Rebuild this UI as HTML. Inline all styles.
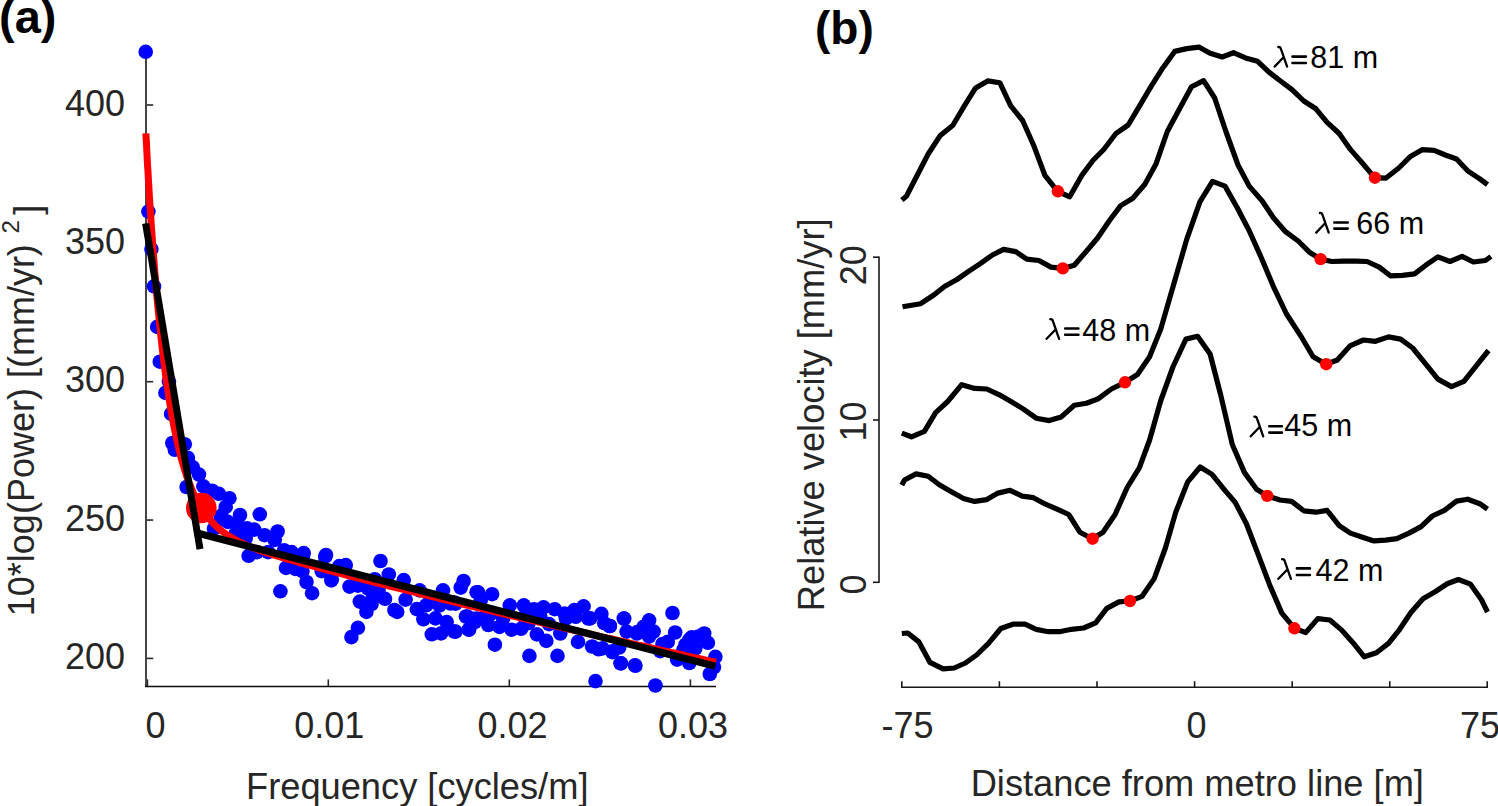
<!DOCTYPE html><html><head><meta charset="utf-8"><style>html,body{margin:0;padding:0;background:#fff;}svg{display:block;}</style></head><body>
<svg width="1498" height="806" viewBox="0 0 1498 806">
<rect width="1498" height="806" fill="#fff"/>
<g stroke="#262626" stroke-width="1.6" fill="none">
<line x1="146.2" y1="105.0" x2="153.2" y2="105.0"/>
<line x1="146.2" y1="243.35" x2="153.2" y2="243.35"/>
<line x1="146.2" y1="381.7" x2="153.2" y2="381.7"/>
<line x1="146.2" y1="520.05" x2="153.2" y2="520.05"/>
<line x1="146.2" y1="658.4" x2="153.2" y2="658.4"/>
<line x1="147.4" y1="686.0" x2="147.4" y2="679.4"/>
<line x1="328.3" y1="686.0" x2="328.3" y2="679.4"/>
<line x1="509.3" y1="686.0" x2="509.3" y2="679.4"/>
<line x1="690.4" y1="686.0" x2="690.4" y2="679.4"/>
</g>
<line x1="146" y1="49.7" x2="146" y2="686.7" stroke="#444" stroke-width="2"/>
<line x1="145" y1="686.4" x2="716.0" y2="686.4" stroke="#0a0a0a" stroke-width="1.5"/>
<g fill="#0000ff">
<circle cx="145.7" cy="51.8" r="7.3"/>
<circle cx="148.4" cy="211.6" r="7.3"/>
<circle cx="151.4" cy="249.1" r="7.3"/>
<circle cx="154.0" cy="286.4" r="7.3"/>
<circle cx="157.2" cy="326.9" r="7.3"/>
<circle cx="159.8" cy="361.7" r="7.3"/>
<circle cx="168.9" cy="381.6" r="7.3"/>
<circle cx="165.4" cy="392.9" r="7.3"/>
<circle cx="171.1" cy="413.8" r="7.3"/>
<circle cx="172.3" cy="443.0" r="7.3"/>
<circle cx="174.8" cy="449.8" r="7.3"/>
<circle cx="184.8" cy="444.2" r="7.3"/>
<circle cx="187.9" cy="457.9" r="7.3"/>
<circle cx="192.8" cy="467.2" r="7.3"/>
<circle cx="199.0" cy="474.6" r="7.3"/>
<circle cx="186.6" cy="487.0" r="7.3"/>
<circle cx="203.4" cy="486.4" r="7.3"/>
<circle cx="212.1" cy="490.7" r="7.3"/>
<circle cx="218.9" cy="493.8" r="7.3"/>
<circle cx="229.4" cy="498.2" r="7.3"/>
<circle cx="225.7" cy="506.9" r="7.3"/>
<circle cx="221.4" cy="515.6" r="7.3"/>
<circle cx="240.0" cy="515.0" r="7.3"/>
<circle cx="259.8" cy="514.3" r="7.3"/>
<circle cx="220.6" cy="519.3" r="7.3"/>
<circle cx="237.4" cy="524.0" r="7.3"/>
<circle cx="214.0" cy="528.7" r="7.3"/>
<circle cx="254.2" cy="529.6" r="7.3"/>
<circle cx="264.5" cy="535.2" r="7.3"/>
<circle cx="277.6" cy="531.5" r="7.3"/>
<circle cx="274.8" cy="539.9" r="7.3"/>
<circle cx="245.8" cy="538.0" r="7.3"/>
<circle cx="248.6" cy="555.8" r="7.3"/>
<circle cx="257.0" cy="552.1" r="7.3"/>
<circle cx="268.2" cy="552.1" r="7.3"/>
<circle cx="284.1" cy="550.2" r="7.3"/>
<circle cx="291.6" cy="552.1" r="7.3"/>
<circle cx="302.8" cy="556.7" r="7.3"/>
<circle cx="325.2" cy="556.7" r="7.3"/>
<circle cx="286.0" cy="567.9" r="7.3"/>
<circle cx="295.3" cy="568.9" r="7.3"/>
<circle cx="300.9" cy="568.9" r="7.3"/>
<circle cx="321.5" cy="567.0" r="7.3"/>
<circle cx="345.8" cy="565.1" r="7.3"/>
<circle cx="339.3" cy="566.1" r="7.3"/>
<circle cx="380.5" cy="561.0" r="7.3"/>
<circle cx="306.5" cy="582.0" r="7.3"/>
<circle cx="312.1" cy="593.2" r="7.3"/>
<circle cx="280.4" cy="591.3" r="7.3"/>
<circle cx="331.8" cy="579.2" r="7.3"/>
<circle cx="349.5" cy="586.6" r="7.3"/>
<circle cx="357.9" cy="585.7" r="7.3"/>
<circle cx="374.8" cy="579.2" r="7.3"/>
<circle cx="388.8" cy="574.5" r="7.3"/>
<circle cx="403.7" cy="580.1" r="7.3"/>
<circle cx="359.8" cy="601.6" r="7.3"/>
<circle cx="372.0" cy="599.7" r="7.3"/>
<circle cx="366.4" cy="611.9" r="7.3"/>
<circle cx="385.0" cy="598.8" r="7.3"/>
<circle cx="394.4" cy="610.0" r="7.3"/>
<circle cx="397.2" cy="611.9" r="7.3"/>
<circle cx="405.6" cy="599.7" r="7.3"/>
<circle cx="419.6" cy="590.4" r="7.3"/>
<circle cx="416.8" cy="609.1" r="7.3"/>
<circle cx="426.2" cy="605.3" r="7.3"/>
<circle cx="423.4" cy="619.3" r="7.3"/>
<circle cx="435.5" cy="618.4" r="7.3"/>
<circle cx="431.8" cy="634.3" r="7.3"/>
<circle cx="441.1" cy="633.4" r="7.3"/>
<circle cx="446.7" cy="622.1" r="7.3"/>
<circle cx="443.0" cy="590.4" r="7.3"/>
<circle cx="460.7" cy="587.6" r="7.3"/>
<circle cx="463.6" cy="581.0" r="7.3"/>
<circle cx="454.2" cy="631.5" r="7.3"/>
<circle cx="467.3" cy="616.5" r="7.3"/>
<circle cx="469.2" cy="629.6" r="7.3"/>
<circle cx="476.6" cy="592.2" r="7.3"/>
<circle cx="474.8" cy="622.1" r="7.3"/>
<circle cx="357.9" cy="627.8" r="7.3"/>
<circle cx="351.4" cy="637.1" r="7.3"/>
<circle cx="450.5" cy="603.5" r="7.3"/>
<circle cx="375.7" cy="592.2" r="7.3"/>
<circle cx="303.7" cy="553.1" r="7.3"/>
<circle cx="326.0" cy="555.0" r="7.3"/>
<circle cx="302.5" cy="571.1" r="7.3"/>
<circle cx="321.7" cy="571.1" r="7.3"/>
<circle cx="331.3" cy="580.4" r="7.3"/>
<circle cx="478.0" cy="592.3" r="7.3"/>
<circle cx="492.1" cy="594.2" r="7.3"/>
<circle cx="480.8" cy="599.8" r="7.3"/>
<circle cx="455.6" cy="603.6" r="7.3"/>
<circle cx="465.9" cy="616.6" r="7.3"/>
<circle cx="476.2" cy="618.5" r="7.3"/>
<circle cx="455.6" cy="631.6" r="7.3"/>
<circle cx="468.7" cy="629.7" r="7.3"/>
<circle cx="488.3" cy="625.0" r="7.3"/>
<circle cx="499.5" cy="626.9" r="7.3"/>
<circle cx="511.7" cy="629.7" r="7.3"/>
<circle cx="521.0" cy="628.8" r="7.3"/>
<circle cx="528.5" cy="623.2" r="7.3"/>
<circle cx="509.8" cy="605.4" r="7.3"/>
<circle cx="523.8" cy="605.4" r="7.3"/>
<circle cx="534.1" cy="609.2" r="7.3"/>
<circle cx="543.5" cy="607.3" r="7.3"/>
<circle cx="554.7" cy="609.2" r="7.3"/>
<circle cx="549.1" cy="624.1" r="7.3"/>
<circle cx="536.9" cy="634.4" r="7.3"/>
<circle cx="546.3" cy="640.9" r="7.3"/>
<circle cx="494.9" cy="644.7" r="7.3"/>
<circle cx="529.4" cy="655.9" r="7.3"/>
<circle cx="557.5" cy="655.9" r="7.3"/>
<circle cx="560.3" cy="633.5" r="7.3"/>
<circle cx="565.9" cy="618.5" r="7.3"/>
<circle cx="574.3" cy="610.1" r="7.3"/>
<circle cx="583.6" cy="606.4" r="7.3"/>
<circle cx="588.3" cy="618.5" r="7.3"/>
<circle cx="578.0" cy="641.9" r="7.3"/>
<circle cx="592.1" cy="646.5" r="7.3"/>
<circle cx="598.6" cy="649.3" r="7.3"/>
<circle cx="601.4" cy="613.8" r="7.3"/>
<circle cx="604.2" cy="623.2" r="7.3"/>
<circle cx="609.8" cy="626.0" r="7.3"/>
<circle cx="612.6" cy="651.2" r="7.3"/>
<circle cx="619.2" cy="647.5" r="7.3"/>
<circle cx="623.8" cy="618.5" r="7.3"/>
<circle cx="626.6" cy="631.6" r="7.3"/>
<circle cx="636.9" cy="633.5" r="7.3"/>
<circle cx="649.1" cy="620.4" r="7.3"/>
<circle cx="643.5" cy="626.9" r="7.3"/>
<circle cx="653.7" cy="631.6" r="7.3"/>
<circle cx="621.0" cy="663.4" r="7.3"/>
<circle cx="635.0" cy="665.2" r="7.3"/>
<circle cx="595.5" cy="681.1" r="7.3"/>
<circle cx="655.4" cy="685.5" r="7.3"/>
<circle cx="672.5" cy="613.0" r="7.3"/>
<circle cx="675.2" cy="632.5" r="7.3"/>
<circle cx="667.8" cy="641.9" r="7.3"/>
<circle cx="660.3" cy="651.2" r="7.3"/>
<circle cx="677.1" cy="659.6" r="7.3"/>
<circle cx="689.3" cy="663.0" r="7.3"/>
<circle cx="693.0" cy="638.1" r="7.3"/>
<circle cx="704.2" cy="633.5" r="7.3"/>
<circle cx="707.9" cy="642.8" r="7.3"/>
<circle cx="685.5" cy="644.7" r="7.3"/>
<circle cx="715.4" cy="656.8" r="7.3"/>
<circle cx="714.0" cy="667.1" r="7.3"/>
<circle cx="709.8" cy="674.0" r="7.3"/>
<circle cx="602.5" cy="648.4" r="7.3"/>
<circle cx="612.4" cy="652.1" r="7.3"/>
<circle cx="620.5" cy="663.3" r="7.3"/>
<circle cx="635.4" cy="665.8" r="7.3"/>
<circle cx="652.1" cy="631.6" r="7.3"/>
<circle cx="691.8" cy="637.2" r="7.3"/>
<circle cx="609.9" cy="626.0" r="7.3"/>
<circle cx="624.2" cy="618.6" r="7.3"/>
<circle cx="227.7" cy="521.9" r="7.3"/>
<circle cx="247.1" cy="528.4" r="7.3"/>
<circle cx="439.4" cy="605.5" r="7.3"/>
<circle cx="428.9" cy="602.6" r="7.3"/>
<circle cx="490.0" cy="614.5" r="7.3"/>
<circle cx="454.3" cy="602.6" r="7.3"/>
<circle cx="484.0" cy="617.5" r="7.3"/>
<circle cx="689.4" cy="639.6" r="7.3"/>
<circle cx="698.3" cy="636.6" r="7.3"/>
<circle cx="695.3" cy="648.5" r="7.3"/>
<circle cx="683.4" cy="650.0" r="7.3"/>
<circle cx="637.2" cy="632.1" r="7.3"/>
<circle cx="649.1" cy="636.6" r="7.3"/>
<circle cx="662.5" cy="644.0" r="7.3"/>
<circle cx="564.5" cy="613.5" r="7.3"/>
<circle cx="540.3" cy="616.8" r="7.3"/>
<circle cx="590.3" cy="618.4" r="7.3"/>
<circle cx="524.2" cy="616.8" r="7.3"/>
<circle cx="575.8" cy="616.8" r="7.3"/>
<circle cx="503.2" cy="618.4" r="7.3"/>
<circle cx="235.8" cy="533.2" r="7.3"/>
<circle cx="368.0" cy="588.5" r="7.3"/>
<circle cx="378.5" cy="590.3" r="7.3"/>
<circle cx="371.5" cy="604.2" r="7.3"/>
</g>
<circle cx="201.3" cy="508.0" r="15.3" fill="#ff0000"/>
<polyline points="145.9,133.3 146.0,135.5 146.1,137.7 146.2,139.8 146.4,141.9 146.5,144.0 146.6,146.1 146.7,148.2 146.8,150.3 146.9,152.3 147.0,154.3 147.1,156.4 147.2,158.4 147.3,160.3 147.4,162.3 147.5,164.3 147.6,166.2 147.7,168.1 147.9,170.0 148.0,171.9 148.1,173.8 148.2,175.7 148.3,177.5 148.4,179.4 148.5,181.2 149.0,189.1 149.4,196.8 149.9,204.2 150.4,211.5 150.9,218.6 151.3,225.5 151.8,232.2 152.3,238.8 152.7,245.2 153.2,251.5 153.7,257.6 154.1,263.6 154.6,269.4 155.1,275.2 155.6,280.8 156.0,286.2 156.5,291.6 157.0,296.8 157.4,301.9 157.9,306.9 158.4,311.8 158.9,316.6 159.3,321.3 159.8,325.9 160.3,330.4 160.7,334.8 161.2,339.1 161.7,343.3 162.1,347.4 162.6,351.4 163.1,355.4 163.6,359.3 164.0,363.0 164.5,366.7 165.0,370.4 165.4,373.9 165.9,377.4 166.4,380.8 166.9,384.1 167.3,387.3 167.8,390.5 168.3,393.6 168.7,396.7 169.2,399.7 169.7,402.6 170.1,405.5 170.6,408.3 171.1,411.0 171.6,413.7 172.0,416.3 172.5,418.9 173.0,421.4 173.4,423.9 173.9,426.3 174.4,428.7 174.9,431.0 175.3,433.3 175.8,435.5 176.3,437.7 176.7,439.8 177.2,441.9 177.7,444.0 178.1,446.0 178.6,447.9 179.1,449.9 179.6,451.8 180.0,453.6 180.5,455.4 181.0,457.2 181.4,458.9 181.9,460.6 182.4,462.3 182.9,463.9 183.3,465.5 183.8,467.1 184.3,468.6 184.7,470.1 185.2,471.6 185.7,473.0 186.1,474.5 186.6,475.9 187.1,477.2 187.6,478.5 188.0,479.9 188.5,481.1 189.0,482.4 189.4,483.6 189.9,484.8 190.4,486.0 190.9,487.2 191.3,488.3 191.8,489.4 192.3,490.5 192.7,491.6 193.2,492.7 193.7,493.7 194.1,494.7 194.6,495.7 195.1,496.7 195.6,497.6 196.0,498.6 196.5,499.5 197.0,500.4 197.4,501.3 197.9,502.1 198.4,503.0 198.9,503.8 199.3,504.7 199.8,505.5 200.3,506.3 200.7,507.0 201.2,507.8 201.7,508.6 202.1,509.3 202.6,510.0 203.1,510.7 203.6,511.4 204.0,512.1 204.5,512.8 208.8,518.4 213.1,523.2 217.4,527.4 221.7,531.0 226.0,534.1 230.3,536.9 234.6,539.4 238.9,541.7 243.2,543.7 247.5,545.6 251.8,547.4 256.1,549.0 260.4,550.6 264.7,552.1 269.0,553.5 273.3,554.9 277.6,556.2 281.9,557.5 286.2,558.8 290.5,560.0 294.8,561.2 299.1,562.5 303.4,563.6 307.7,564.8 312.0,566.0 316.3,567.1 320.6,568.3 324.9,569.4 329.2,570.6 333.4,571.7 337.7,572.8 342.0,573.9 346.3,575.1 350.6,576.2 354.9,577.3 359.2,578.4 363.5,579.5 367.8,580.6 372.1,581.7 376.4,582.8 380.7,583.8 385.0,584.9 389.3,586.0 393.6,587.1 397.9,588.2 402.2,589.2 406.5,590.3 410.8,591.4 415.1,592.4 419.4,593.5 423.7,594.6 428.0,595.6 432.3,596.7 436.6,597.7 440.9,598.8 445.2,599.8 449.5,600.9 453.8,601.9 458.1,603.0 462.4,604.0 466.7,605.1 471.0,606.1 475.3,607.1 479.6,608.2 483.9,609.2 488.2,610.2 492.5,611.2 496.8,612.3 501.1,613.3 505.4,614.3 509.7,615.3 514.0,616.3 518.3,617.4 522.6,618.4 526.9,619.4 531.2,620.4 535.5,621.4 539.8,622.4 544.1,623.4 548.4,624.4 552.7,625.4 557.0,626.4 561.3,627.4 565.6,628.4 569.9,629.4 574.2,630.4 578.5,631.4 582.8,632.4 587.1,633.3 591.3,634.3 595.6,635.3 599.9,636.3 604.2,637.3 608.5,638.3 612.8,639.2 617.1,640.2 621.4,641.2 625.7,642.2 630.0,643.1 634.3,644.1 638.6,645.1 642.9,646.0 647.2,647.0 651.5,648.0 655.8,648.9 660.1,649.9 664.4,650.9 668.7,651.8 673.0,652.8 677.3,653.7 681.6,654.7 685.9,655.7 690.2,656.6 694.5,657.6 698.8,658.5 703.1,659.5 707.4,660.4 711.7,661.4 716.0,662.3" fill="none" stroke="#ff0000" stroke-width="7" stroke-linejoin="round"/>
<line x1="145.6" y1="223.3" x2="200.0" y2="549.2" stroke="#000" stroke-width="7"/>
<line x1="198.0" y1="533.3" x2="715.4" y2="666.3" stroke="#000" stroke-width="7.3"/>
<g font-family='"Liberation Sans", sans-serif' font-size="36" fill="#262626">
<text x="125" y="115.5" text-anchor="end">400</text>
<text x="125" y="253.8" text-anchor="end">350</text>
<text x="125" y="392.2" text-anchor="end">300</text>
<text x="125" y="530.5" text-anchor="end">250</text>
<text x="125" y="668.9" text-anchor="end">200</text>
<text x="155.6" y="738" text-anchor="middle">0</text>
<text x="329.3" y="738" text-anchor="middle">0.01</text>
<text x="512.5" y="738" text-anchor="middle">0.02</text>
<text x="693.0" y="738" text-anchor="middle">0.03</text>
<text x="246" y="798.9" font-size="36.25">Frequency [cycles/m]</text>
<text transform="translate(33.7,616.2) rotate(-90)">10*log(Power) [(mm/yr)</text>
<text transform="translate(18.8,233.5) rotate(-90)" font-size="24">2</text>
<text transform="translate(39.5,214.8) rotate(-90)">]</text>
</g>
<text x="-1" y="33" font-family='"Liberation Sans", sans-serif' font-size="47" font-weight="bold" fill="#000">(a)</text>
<polyline points="901.8,200.0 906.4,196.3 917.6,174.5 928.2,154.0 940.3,135.4 952.9,125.2 964.5,105.6 975.6,87.9 987.7,80.9 999.8,82.7 1010.6,105.6 1022.6,120.5 1033.4,144.7 1044.9,175.4 1057.6,191.3 1069.7,196.8 1081.8,175.4 1092.9,160.5 1104.0,149.2 1116.1,133.3 1128.2,125.0 1139.3,106.3 1151.4,85.9 1162.6,68.2 1174.7,51.4 1186.8,48.6 1198.9,47.1 1210.1,53.3 1222.2,57.0 1233.4,52.7 1245.5,57.9 1257.6,61.3 1268.7,71.9 1280.8,81.2 1292.0,89.6 1303.8,101.0 1315.9,108.8 1327.1,122.4 1339.2,133.5 1350.4,149.4 1362.5,163.3 1374.6,177.7 1385.7,178.2 1398.8,168.0 1410.0,156.8 1422.1,149.7 1434.2,150.3 1445.3,155.0 1456.5,159.0 1467.7,170.8 1479.8,178.8 1487.5,184.6" fill="none" stroke="#000" stroke-width="5.2" stroke-linejoin="round"/>
<polyline points="902.5,306.7 920.7,303.7 933.8,295.0 944.9,286.2 957.0,279.5 968.2,271.7 980.3,263.7 992.4,255.0 1003.6,249.4 1015.7,251.6 1026.8,259.2 1038.9,260.5 1051.0,267.1 1062.8,268.4 1074.3,265.2 1085.5,252.2 1097.4,238.2 1109.5,220.5 1120.7,205.6 1132.8,198.2 1144.9,184.2 1156.1,163.7 1167.3,131.5 1179.4,109.1 1191.5,86.8 1203.6,80.6 1214.7,98.0 1225.9,131.5 1238.0,165.0 1249.2,186.1 1262.2,201.0 1273.4,217.7 1285.5,231.7 1298.2,241.0 1309.4,252.2 1320.6,259.1 1331.8,261.5 1343.9,261.1 1356.0,261.1 1367.1,261.5 1379.2,267.1 1390.4,275.8 1402.5,275.4 1414.6,273.9 1425.8,265.2 1437.9,256.8 1450.0,261.5 1462.1,256.4 1473.3,262.0 1485.4,260.5 1491.0,256.5" fill="none" stroke="#000" stroke-width="5.2" stroke-linejoin="round"/>
<polyline points="901.8,433.1 911.4,436.8 924.4,431.3 935.6,412.6 947.7,401.5 961.7,384.7 974.7,388.4 986.8,389.0 998.9,394.6 1011.0,401.5 1023.1,408.9 1036.2,418.2 1049.2,420.6 1061.3,416.9 1074.3,405.2 1086.4,403.3 1098.4,398.7 1111.4,389.0 1125.0,382.3 1137.5,374.5 1149.6,356.8 1160.8,328.9 1173.5,285.0 1186.8,239.1 1199.9,201.9 1212.5,181.4 1225.0,186.1 1237.1,207.5 1249.2,230.8 1261.3,257.7 1273.4,286.6 1286.5,314.0 1301.0,336.3 1313.1,356.8 1326.2,364.2 1337.3,360.0 1350.4,345.6 1363.4,340.0 1375.5,341.3 1388.5,336.9 1400.6,339.1 1412.7,348.0 1425.8,364.2 1437.9,379.1 1451.5,386.6 1463.9,381.4 1476.0,366.1 1488.5,350.5" fill="none" stroke="#000" stroke-width="5.2" stroke-linejoin="round"/>
<polyline points="901.8,485.0 904.5,480.0 916.1,473.9 928.2,476.3 939.3,484.7 951.4,491.8 963.5,498.6 974.7,501.4 986.8,499.6 998.0,493.1 1010.1,490.3 1022.2,496.2 1033.4,497.7 1045.5,504.2 1057.6,509.3 1068.7,514.5 1079.9,532.2 1092.4,538.7 1103.0,532.2 1115.1,514.5 1127.2,487.5 1139.3,467.9 1149.6,440.0 1160.8,400.5 1172.9,367.0 1185.9,339.1 1197.6,336.3 1210.1,354.0 1220.7,395.0 1232.3,444.5 1244.5,472.6 1256.6,489.3 1267.2,495.9 1279.9,500.0 1291.7,501.4 1303.8,510.8 1315.9,512.2 1327.1,510.4 1339.2,525.6 1350.4,533.1 1362.5,537.2 1374.0,540.9 1385.7,540.2 1396.9,538.7 1409.0,533.1 1421.1,526.6 1432.3,516.0 1444.4,510.4 1456.5,501.1 1467.7,499.2 1479.8,503.7 1487.5,509.2" fill="none" stroke="#000" stroke-width="5.2" stroke-linejoin="round"/>
<polyline points="901.8,633.5 907.7,633.0 918.9,641.9 930.0,662.4 943.1,668.9 954.2,668.0 965.4,663.0 976.6,655.0 988.7,643.2 1000.8,628.5 1012.9,624.2 1025.0,624.2 1036.2,629.4 1048.3,631.7 1059.4,631.7 1071.5,629.3 1083.6,628.0 1095.6,622.9 1106.8,608.4 1118.9,601.9 1130.0,601.0 1142.1,596.3 1154.2,578.6 1165.4,548.0 1175.6,512.6 1187.7,481.9 1200.2,467.0 1212.0,474.4 1224.1,489.3 1235.2,502.4 1246.4,523.8 1258.5,555.4 1269.7,585.1 1281.8,613.1 1294.4,628.2 1305.7,632.6 1317.8,618.6 1329.9,620.0 1342.0,630.4 1353.2,642.9 1364.3,656.8 1376.4,652.7 1388.5,643.4 1399.7,629.3 1410.9,612.5 1423.0,598.7 1435.1,591.7 1447.2,583.8 1458.4,579.5 1470.5,584.2 1481.6,600.0 1487.5,612.0" fill="none" stroke="#000" stroke-width="5.2" stroke-linejoin="round"/>
<g fill="#ff0000">
<circle cx="1057.9" cy="191.3" r="6.2"/>
<circle cx="1374.9" cy="177.7" r="6.2"/>
<circle cx="1062.8" cy="268.4" r="6.2"/>
<circle cx="1320.6" cy="259.1" r="6.2"/>
<circle cx="1125.0" cy="382.3" r="6.2"/>
<circle cx="1326.2" cy="364.2" r="6.2"/>
<circle cx="1092.6" cy="538.7" r="6.2"/>
<circle cx="1267.2" cy="495.9" r="6.2"/>
<circle cx="1130.0" cy="601.0" r="6.2"/>
<circle cx="1294.4" cy="628.3" r="6.2"/>
</g>
<g stroke="#181818" stroke-width="1.6" fill="none">
<line x1="879.0" y1="256.4" x2="879.0" y2="583.0999999999999"/>
<line x1="879.0" y1="257.2" x2="873.0" y2="257.2"/>
<line x1="879.0" y1="420.0" x2="873.0" y2="420.0"/>
<line x1="879.0" y1="582.3" x2="873.0" y2="582.3"/>
<line x1="901.05" y1="687.2" x2="1487.95" y2="687.2"/>
<line x1="901.8" y1="687.2" x2="901.8" y2="681.2"/>
<line x1="999.4" y1="687.2" x2="999.4" y2="681.2"/>
<line x1="1097.0" y1="687.2" x2="1097.0" y2="681.2"/>
<line x1="1194.6" y1="687.2" x2="1194.6" y2="681.2"/>
<line x1="1292.2" y1="687.2" x2="1292.2" y2="681.2"/>
<line x1="1389.8" y1="687.2" x2="1389.8" y2="681.2"/>
<line x1="1487.2" y1="687.2" x2="1487.2" y2="681.2"/>
</g>
<g font-family='"Liberation Sans", sans-serif' font-size="36" fill="#262626">
<text transform="translate(865.5,265.2) rotate(-90)" text-anchor="middle">20</text>
<text transform="translate(865.5,421.5) rotate(-90)" text-anchor="middle">10</text>
<text transform="translate(865.5,584.5) rotate(-90)" text-anchor="middle">0</text>
<text x="907.5" y="738" text-anchor="middle">-75</text>
<text x="1196.5" y="738" text-anchor="middle">0</text>
<text x="1480" y="738" text-anchor="middle">75</text>
<text x="970.7" y="796" font-size="36.25">Distance from metro line [m]</text>
<text transform="translate(824.3,611.2) rotate(-90)" font-size="36.25">Relative velocity [mm/yr]</text>
</g>
<path d="M1278.3 47.0Q1280.4 46.6 1281.1 49.4L1287.1 66.6M1282.8 58.0L1274.6 66.6" stroke="#000" stroke-width="2.3" stroke-linecap="round" fill="none"/>
<path d="M1292.5 56.6H1305.9M1292.5 63.0H1305.9" stroke="#000" stroke-width="2.6" stroke-linecap="round"/>
<text x="1310.3" y="67.6" font-family='"Liberation Sans", sans-serif' font-size="30.5" fill="#000">81 m</text>
<path d="M1319.9 213.0Q1322.0 212.6 1322.7 215.4L1328.7 232.6M1324.4 224.0L1316.2 232.6" stroke="#000" stroke-width="2.3" stroke-linecap="round" fill="none"/>
<path d="M1334.3 222.5H1347.7M1334.3 228.6H1347.7" stroke="#000" stroke-width="2.6" stroke-linecap="round"/>
<text x="1356.3" y="233.7" font-family='"Liberation Sans", sans-serif' font-size="30.5" fill="#000">66 m</text>
<path d="M1050.3 319.2Q1052.4 318.8 1053.1 321.6L1059.1 338.8M1054.8 330.2L1046.6 338.8" stroke="#000" stroke-width="2.3" stroke-linecap="round" fill="none"/>
<path d="M1065.2 328.5H1078.4M1065.2 334.8H1078.4" stroke="#000" stroke-width="2.6" stroke-linecap="round"/>
<text x="1082.3" y="341.2" font-family='"Liberation Sans", sans-serif' font-size="30.5" fill="#000">48 m</text>
<path d="M1254.4 416.7Q1256.5 416.3 1257.2 419.1L1263.2 436.3M1258.9 427.7L1250.7 436.3" stroke="#000" stroke-width="2.3" stroke-linecap="round" fill="none"/>
<path d="M1269.3 426.3H1281.9M1269.3 432.6H1281.9" stroke="#000" stroke-width="2.6" stroke-linecap="round"/>
<text x="1284.3" y="435.7" font-family='"Liberation Sans", sans-serif' font-size="30.5" fill="#000">45 m</text>
<path d="M1282.1 559.2Q1284.2 558.8 1284.9 561.6L1290.9 578.8M1286.6 570.2L1278.4 578.8" stroke="#000" stroke-width="2.3" stroke-linecap="round" fill="none"/>
<path d="M1296.9 568.4H1309.9M1296.9 575.0H1309.9" stroke="#000" stroke-width="2.6" stroke-linecap="round"/>
<text x="1315.5" y="580.5" font-family='"Liberation Sans", sans-serif' font-size="30.5" fill="#000">42 m</text>
<text x="815" y="44.2" font-family='"Liberation Sans", sans-serif' font-size="46" font-weight="bold" fill="#000">(b)</text>
</svg></body></html>
